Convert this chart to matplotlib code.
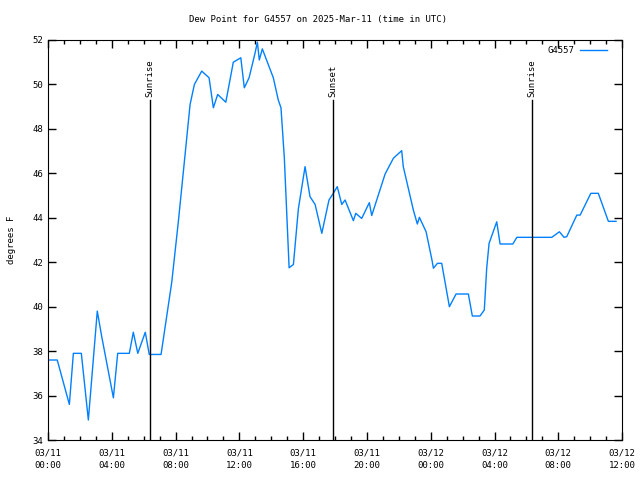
import matplotlib
matplotlib.use('Agg')
import matplotlib.pyplot as plt
from matplotlib.ticker import MultipleLocator

# hours since 2025-03-11 00:00 UTC
hours = [0.06, 0.58, 1.34, 1.59, 2.09, 2.53, 3.09, 3.37, 4.10, 4.37, 5.10, 5.35, 5.63, 6.10,
         6.35, 7.09, 7.76, 8.17, 8.59, 8.91, 9.18, 9.64, 10.10, 10.37, 10.64, 11.15, 11.62,
         12.09, 12.31, 12.61, 12.98, 13.13, 13.25, 13.44, 14.13, 14.44, 14.61, 14.82, 15.12,
         15.39, 15.70, 16.12, 16.43, 16.75, 17.17, 17.62, 17.89, 18.14, 18.42, 18.63, 19.15,
         19.30, 19.67, 20.15, 20.30, 21.14, 21.66, 22.18, 22.28, 22.91, 23.16, 23.29, 23.71,
         24.07, 24.17, 24.42, 24.69, 25.17, 25.59, 26.36, 26.61, 27.09, 27.36, 27.51, 27.66,
         28.14, 28.35, 29.15, 29.40, 31.59, 32.07, 32.36, 32.53, 33.16, 33.37, 34.04, 34.51,
         35.14, 35.62]
dewpoint = [37.6, 37.6, 35.6, 37.9, 37.9, 34.9, 39.8, 38.65, 35.9, 37.9, 37.9, 38.85, 37.9, 38.85,
            37.85, 37.85, 41.1, 43.8, 46.8, 49.1, 50.0, 50.6, 50.3, 48.95, 49.55, 49.2, 51.0,
            51.2, 49.85, 50.3, 51.4, 51.9, 51.1, 51.6, 50.3, 49.3, 48.95, 46.7, 41.75,
            41.9, 44.4, 46.3, 44.95, 44.6, 43.3, 44.8, 45.1, 45.4, 44.6, 44.8, 43.87,
            44.2, 43.97, 44.68, 44.1, 45.97, 46.68, 47.02, 46.3, 44.35, 43.72, 44.02, 43.37,
            42.13, 41.73, 41.95, 41.95, 40.0, 40.57, 40.57, 39.58, 39.58, 39.85, 41.73, 42.85,
            43.82, 42.82, 42.82, 43.12, 43.12, 43.37, 43.12, 43.15, 44.12, 44.12, 45.1, 45.1,
            43.84, 43.84]

sun_events = ['Sunrise', 'Sunset', 'Sunrise']
sun_hours = [6.4, 17.88, 30.36]

xtick_hours = [0, 4, 8, 12, 16, 20, 24, 28, 32, 36]
xtick_labels = ['03/11\n00:00', '03/11\n04:00', '03/11\n08:00', '03/11\n12:00', '03/11\n16:00',
                '03/11\n20:00', '03/12\n00:00', '03/12\n04:00', '03/12\n08:00', '03/12\n12:00']

font = 'DejaVu Sans Mono'
fig = plt.figure(figsize=(6.4, 4.8), dpi=100, facecolor='white')
ax = fig.add_axes([0.075, 0.0833, 0.897, 0.8334])

ax.plot(hours, dewpoint, color='#0080ff', lw=1, label='G4557')

for name, h in zip(sun_events, sun_hours):
    ax.plot([h, h], [34, 49.3], color='black', lw=1)
    ax.text(h, 49.45, name, rotation=90, ha='center', va='bottom', fontsize=6.5, family=font)

ax.set_xlim(0, 36)
ax.set_ylim(34, 52)
ax.set_xticks(xtick_hours)
ax.set_xticklabels(xtick_labels, family=font, fontsize=6.5, linespacing=1.5)
ax.xaxis.set_minor_locator(MultipleLocator(1))
ax.yaxis.set_major_locator(MultipleLocator(2))
for lbl in ax.get_yticklabels():
    lbl.set_family(font)
    lbl.set_fontsize(6.5)
ax.tick_params(which='both', direction='in', top=True, right=True, width=1)
ax.tick_params(which='major', length=6)
ax.tick_params(which='minor', length=3)
ax.tick_params(axis='x', pad=6)

ax.set_ylabel('degrees F', family=font, fontsize=6.5, labelpad=12)
fig.text(0.497, 0.96, 'Dew Point for G4557 on 2025-Mar-11 (time in UTC)', family=font,
         fontsize=6.5, ha='center', va='center')

leg = ax.legend(loc='upper right', frameon=False, prop={'family': font, 'size': 6.5},
                markerfirst=False, handlelength=3.0, handletextpad=0.6,
                borderaxespad=0.3, bbox_to_anchor=(0.985, 1.0))

fig.savefig('out.png', dpi=100)
